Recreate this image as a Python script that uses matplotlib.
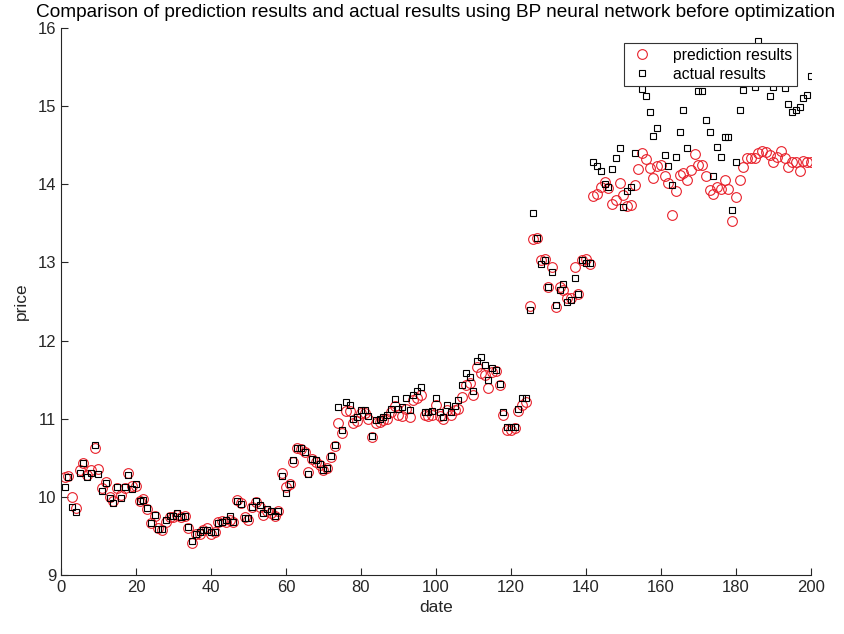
import numpy as np
import matplotlib
matplotlib.use("Agg")
import matplotlib.pyplot as plt

plt.rcParams['font.family'] = ['Liberation Sans', 'DejaVu Sans']

dates = list(range(1, 201))

actual = [
    10.13, 10.25, 9.87, 9.81, 10.30, 10.43, 10.26, 10.31, 10.66, 10.29,
    10.08, 10.18, 9.98, 9.92, 10.12, 9.98, 10.13, 10.28, 10.10, 10.16,
    9.95, 9.96, 9.86, 9.67, 9.77, 9.59, 9.59, 9.70, 9.75, 9.76,
    9.79, 9.74, 9.76, 9.62, 9.43, 9.52, 9.55, 9.57, 9.58, 9.55,
    9.55, 9.67, 9.68, 9.70, 9.75, 9.68, 9.95, 9.91, 9.73, 9.73,
    9.87, 9.95, 9.90, 9.79, 9.84, 9.82, 9.75, 9.82, 10.27, 10.05,
    10.17, 10.47, 10.63, 10.63, 10.58, 10.29, 10.49, 10.47, 10.42, 10.34,
    10.37, 10.52, 10.67, 11.15, 10.86, 11.22, 11.18, 11.00, 11.02, 11.11,
    11.11, 11.03, 10.78, 10.98, 11.00, 11.02, 11.05, 11.13, 11.25, 11.13,
    11.15, 11.27, 11.11, 11.30, 11.36, 11.40, 11.08, 11.08, 11.10, 11.26,
    11.09, 11.02, 11.18, 11.09, 11.16, 11.24, 11.43, 11.58, 11.53, 11.35,
    11.74, 11.79, 11.69, 11.50, 11.65, 11.62, 11.45, 11.08, 10.90, 10.90,
    10.90, 11.13, 11.26, 11.26, 12.39, 13.63, 13.31, 12.98, 13.03, 12.69,
    12.88, 12.46, 12.65, 12.73, 12.50, 12.52, 12.80, 12.59, 13.03, 12.99,
    12.99, 14.29, 14.23, 14.17, 14.01, 13.96, 14.19, 14.33, 14.46, 13.71,
    13.91, 13.97, 14.40, 15.50, 15.22, 15.13, 14.93, 14.62, 14.72, 15.50,
    14.38, 14.23, 13.99, 14.35, 14.67, 14.95, 14.47, 15.45, 15.55, 15.20,
    15.20, 14.82, 14.67, 14.10, 14.48, 14.35, 14.61, 14.61, 13.67, 14.28,
    14.95, 15.21, 15.45, 15.50, 15.24, 15.83, 15.50, 15.45, 15.13, 15.25,
    15.50, 15.45, 15.23, 15.03, 14.93, 14.95, 14.99, 15.10, 15.14, 15.39,
]

prediction = [
    10.26, 10.27, 10.00, 9.86, 10.35, 10.43, 10.28, 10.34, 10.62, 10.36,
    10.11, 10.19, 10.00, 9.95, 10.11, 10.02, 10.11, 10.30, 10.14, 10.14,
    9.95, 9.97, 9.85, 9.66, 9.76, 9.60, 9.58, 9.68, 9.74, 9.74,
    9.77, 9.74, 9.75, 9.60, 9.41, 9.53, 9.53, 9.58, 9.60, 9.52,
    9.55, 9.68, 9.69, 9.68, 9.71, 9.68, 9.96, 9.92, 9.74, 9.70,
    9.87, 9.94, 9.87, 9.77, 9.82, 9.79, 9.76, 9.82, 10.30, 10.12,
    10.17, 10.45, 10.62, 10.61, 10.58, 10.32, 10.48, 10.44, 10.41, 10.34,
    10.37, 10.51, 10.65, 10.95, 10.82, 11.10, 11.10, 10.94, 10.97, 11.07,
    11.07, 10.99, 10.77, 10.94, 10.96, 10.98, 11.00, 11.09, 11.16, 11.05,
    11.03, 11.13, 11.02, 11.24, 11.27, 11.30, 11.05, 11.03, 11.05, 11.18,
    11.03, 10.99, 11.11, 11.05, 11.11, 11.13, 11.28, 11.43, 11.46, 11.30,
    11.66, 11.58, 11.56, 11.39, 11.60, 11.61, 11.43, 11.05, 10.86, 10.86,
    10.88, 11.10, 11.18, 11.22, 12.44, 13.30, 13.31, 13.03, 13.05, 12.69,
    12.94, 12.43, 12.68, 12.65, 12.55, 12.54, 12.94, 12.60, 13.03, 13.05,
    12.98, 13.85, 13.88, 13.97, 14.03, 13.95, 13.75, 13.80, 14.02, 13.86,
    13.72, 13.74, 13.99, 14.20, 14.40, 14.32, 14.21, 14.08, 14.23, 14.25,
    14.10, 14.02, 13.61, 13.91, 14.12, 14.15, 14.06, 14.18, 14.39, 14.25,
    14.25, 14.10, 13.93, 13.88, 13.97, 13.94, 14.06, 13.94, 13.53, 13.84,
    14.05, 14.22, 14.34, 14.34, 14.33, 14.40, 14.42, 14.41, 14.38, 14.29,
    14.35, 14.42, 14.33, 14.22, 14.28, 14.28, 14.17, 14.30, 14.29, 14.28,
]

x_ticks = [0, 20, 40, 60, 80, 100, 120, 140, 160, 180, 200]
y_ticks = [9, 10, 11, 12, 13, 14, 15, 16]

title = "Comparison of prediction results and actual results using BP neural network before optimization"

fig = plt.figure(figsize=(8.45, 6.34), dpi=100)
ax = fig.add_axes([61 / 845, 59 / 634, 750 / 845, 547 / 634])

axis_col = '#262626'
ax.plot(dates, prediction, linestyle='none', marker='o', markersize=7,
        markerfacecolor='none', markeredgecolor='#e8202a', markeredgewidth=0.8,
        label='prediction results')
ax.plot(dates, actual, linestyle='none', marker='s', markersize=4.6,
        markerfacecolor='none', markeredgecolor='black', markeredgewidth=0.8,
        label='actual results')

ax.set_xlim(0, 200)
ax.set_ylim(9, 16)
ax.set_xticks(x_ticks)
ax.set_yticks(y_ticks)
ax.spines['top'].set_visible(False)
ax.spines['right'].set_visible(False)
for s in ['left', 'bottom']:
    ax.spines[s].set_color(axis_col)
    ax.spines[s].set_linewidth(0.8)
ax.tick_params(direction='in', length=5, width=0.8, colors=axis_col,
               labelsize=12, labelcolor=axis_col)

ax.set_xlabel('date', fontsize=12.5, color=axis_col, labelpad=4)
ax.set_ylabel('price', fontsize=12.5, color=axis_col, labelpad=6)
ax.set_title(title, fontsize=13.7, color='black', pad=8)

leg = ax.legend(loc='upper right', bbox_to_anchor=(797 / 845, (634 - 43) / 634),
                bbox_transform=fig.transFigure, fontsize=11.3, frameon=True,
                fancybox=False, edgecolor='#333333', framealpha=1.0,
                borderpad=0.3, handletextpad=1.2, labelspacing=0.25,
                handlelength=1.6, borderaxespad=0)
leg.get_frame().set_linewidth(0.8)

fig.savefig('out.png', dpi=100)
